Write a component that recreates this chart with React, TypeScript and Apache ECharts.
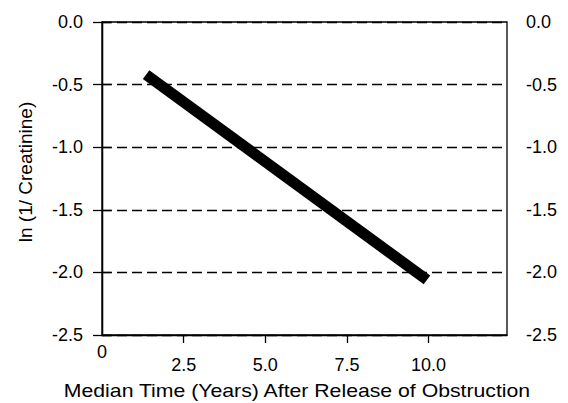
import React, { useEffect, useRef } from "react";
import * as echarts from "echarts";

// Data
const xTickValues = [2.5, 5.0, 7.5, 10.0];
const xZeroTick = [0];
const lineX = [1.35, 9.95];
const lineY = [-0.42, -2.06];
const xTitle = "Median Time (Years) After Release of Obstruction";
const yTitle = "ln (1/ Creatinine)";

const FONT = "'Liberation Sans', Arial, Helvetica, sans-serif";

export default function App() {
  const ref = useRef<HTMLDivElement>(null);
  useEffect(() => {
    if (!ref.current) return;
    const chart = echarts.init(ref.current, undefined, { renderer: "svg" });
    const yBase = {
      type: "value" as const,
      min: -2.5,
      max: 0,
      interval: 0.5,
      axisLine: { show: true, lineStyle: { color: "#000", width: 1.3 } },
      axisTick: { show: true, inside: false, length: 9, lineStyle: { color: "#000", width: 1.3 } },
      axisLabel: {
        show: true,
        color: "#000",
        fontSize: 18,
        fontFamily: FONT,
        margin: 19,
        formatter: (v: number) => v.toFixed(1),
      },
    };
    chart.setOption({
      animation: false,
      backgroundColor: "#fff",
      grid: {
        left: 102,
        right: 61,
        top: 22,
        bottom: 68,
        show: true,
        borderColor: "#000",
        borderWidth: 1.3,
        backgroundColor: "transparent",
      },
      xAxis: [
        {
          type: "value",
          min: 0,
          max: 12.4,
          position: "bottom",
          axisLine: { show: true, onZero: false, lineStyle: { color: "#000", width: 1.3 } },
          axisTick: {
            show: true,
            length: 8,
            customValues: xTickValues,
            lineStyle: { color: "#000", width: 1.3 },
          },
          axisLabel: {
            show: true,
            customValues: xTickValues,
            color: "#000",
            fontSize: 18,
            fontFamily: FONT,
            margin: 21,
            formatter: (v: number) => v.toFixed(1),
          },
          splitLine: { show: false },
        },
        {
          type: "value",
          min: 0,
          max: 12.4,
          position: "bottom",
          axisLine: { show: false, onZero: false },
          axisTick: { show: false },
          axisLabel: {
            show: true,
            customValues: xZeroTick,
            color: "#000",
            fontSize: 18,
            fontFamily: FONT,
            margin: 8,
            formatter: (v: number) => String(v),
          },
          splitLine: { show: false },
        },
      ],
      yAxis: [
        {
          ...yBase,
          position: "left",
          splitLine: {
            show: true,
            lineStyle: { color: "#000", width: 1.3, type: [10, 5] },
          },
        },
        {
          ...yBase,
          position: "right",
          splitLine: { show: false },
        },
      ],
      graphic: [
        {
          type: "text",
          x: 297,
          y: 391,
          scaleX: 1.18,
          style: {
            text: xTitle,
            fill: "#000",
            fontSize: 18,
            fontFamily: FONT,
            align: "center",
            verticalAlign: "middle",
          },
        },
        {
          type: "text",
          x: 25,
          y: 172,
          rotation: Math.PI / 2,
          style: {
            text: yTitle,
            fill: "#000",
            fontSize: 19,
            fontFamily: FONT,
            align: "center",
            verticalAlign: "middle",
          },
        },
      ],
      series: [
        {
          type: "line",
          xAxisIndex: 0,
          yAxisIndex: 0,
          data: lineX.map((x, i) => [x, lineY[i]]),
          symbol: "none",
          lineStyle: { color: "#000", width: 11, cap: "butt" },
          z: 5,
        },
      ],
    });
    return () => chart.dispose();
  }, []);
  return <div ref={ref} style={{ width: 568, height: 403, position: "absolute", left: 0, top: 0 }} />;
}
